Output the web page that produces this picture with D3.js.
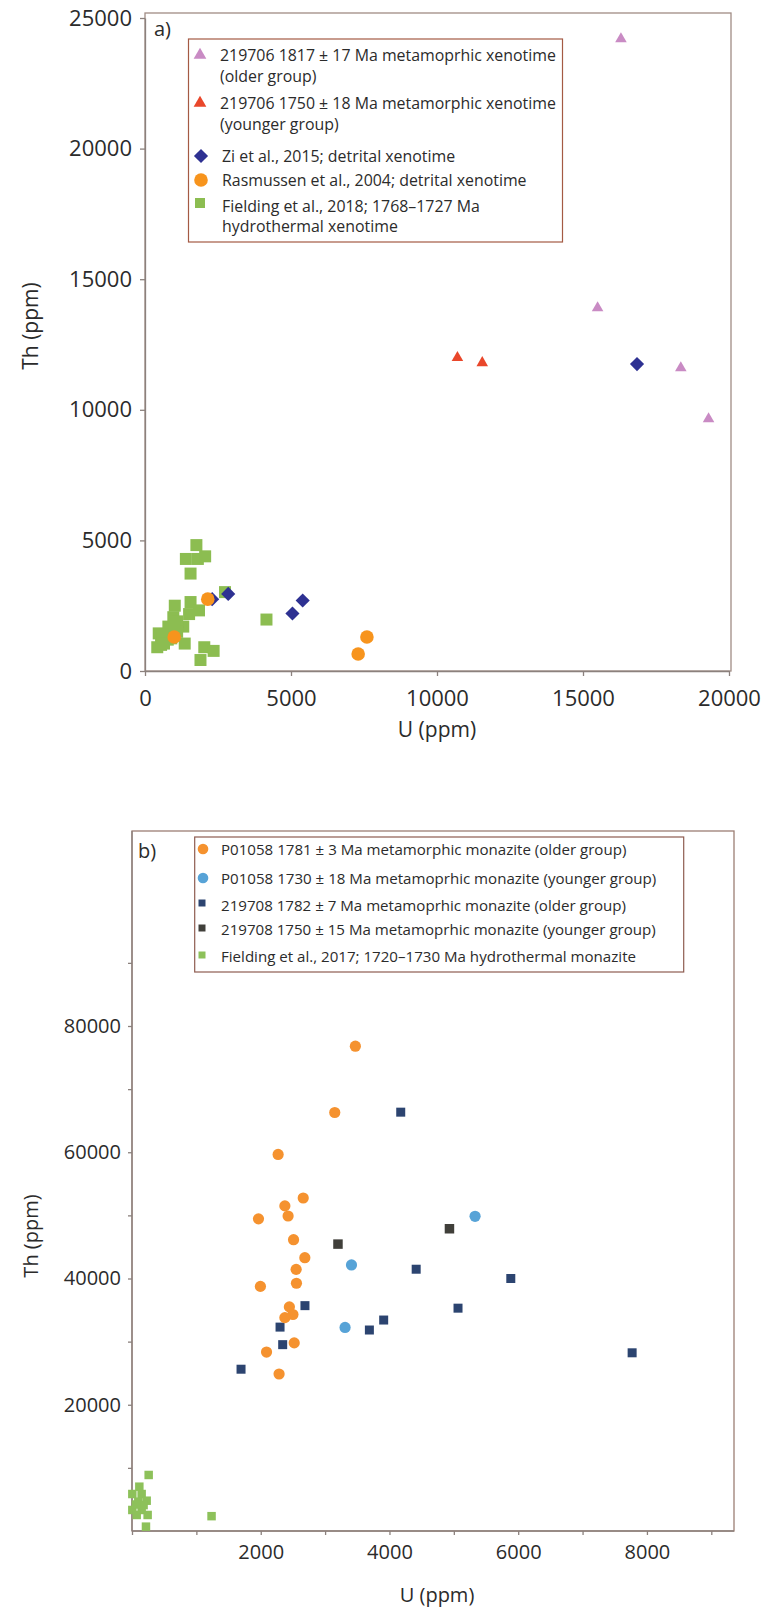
<!DOCTYPE html>
<html><head><meta charset="utf-8">
<script src="https://cdn.jsdelivr.net/npm/d3@7"></script>
<style>body{margin:0;background:#fff} svg{display:block;font-family:"Open Sans",sans-serif}</style>
</head><body>
<svg id="c" width="767" height="1611"></svg>
<script>
// ---------- Panel a data: [U ppm, Th ppm] ----------
const aOlderXeno = [[16300,24200],[15500,13900],[18350,11600],[19300,9650]];
const aYoungerXeno = [[10700,12000],[11550,11800]];
const aZi2015 = [[16850,11750],[2850,2950],[2300,2750],[5050,2200],[5400,2700]];
const aRasmussen2004 = [[2150,2750],[1000,1300],[7300,650],[7600,1300]];
const aFielding2018 = [[470,1440],[420,910],[550,1000],[800,1700],[1020,2500],[970,2060],[1310,1700],[1360,1050],
  [1900,420],[2030,910],[2350,770],[1560,2640],[1510,2180],[1850,2320],[4160,1970],[1560,3730],[1400,4290],
  [1810,4290],[2060,4390],[1760,4820],[2740,3020],[700,1400],[900,1250],[1100,1900],[780,1200],[1100,1500],
  [600,1300],[1000,1800],[650,1050]];
const aXTicks = [0,5000,10000,15000,20000];
const aYTicks = [0,5000,10000,15000,20000,25000];
const aLegendLines = ["219706 1817 \u00b1 17 Ma metamoprhic xenotime","(older group)",
  "219706 1750 \u00b1 18 Ma metamorphic xenotime"," (younger group)",
  "Zi et al., 2015; detrital xenotime","Rasmussen et al., 2004; detrital xenotime",
  "Fielding et al., 2018; 1768\u20131727 Ma","hydrothermal xenotime"];

// ---------- Panel b data: [U ppm, Th ppm] ----------
const bP01058Older = [[3470,76800],[3150,66300],[2270,59650],[2660,52750],[2375,51500],[2425,49900],[1965,49450],
  [2510,46150],[2685,43300],[2550,41450],[2555,39250],[1995,38750],[2445,35500],[2500,34300],[2375,33800],
  [2520,29800],[2090,28350],[2285,24870]];
const bP01058Younger = [[5330,49850],[3410,42150],[3310,32250]];
const b219708Older = [[4175,66350],[4415,41470],[5885,40000],[5065,35300],[2687,35700],[2300,32300],[3910,33420],
  [3688,31840],[2341,29520],[1694,25630],[7770,28230]];
const b219708Younger = [[3200,45450],[4932,47880]];
const bFielding2017 = [[259,8875],[114,7020],[5,5860],[150,5860],[228,4800],[98,4640],[5,3330],[150,3330],
  [243,2540],[73,2540],[217,690],[1236,2350],[180,4100],[60,4200]];
const bXTicks = [0,1000,2000,3000,4000,5000,6000,7000,8000,9000];
const bXLabels = [2000,4000,6000,8000];
const bYTicks = [10000,20000,30000,40000,50000,60000,70000,80000,90000];
const bYLabels = [20000,40000,60000,80000];
const bLegendLines = ["P01058 1781 \u00b1 3 Ma metamorphic monazite (older group)",
  "P01058 1730 \u00b1 18 Ma metamoprhic monazite (younger group)",
  "219708 1782 \u00b1 7 Ma metamoprhic monazite (older group)",
  "219708 1750 \u00b1 15 Ma metamoprhic monazite (younger group)",
  "Fielding et al., 2017; 1720\u20131730 Ma hydrothermal monazite"];

const svg = d3.select("#c");
const txt = "#2b2b2b";
const axisCol = "#8b817d";

function styleAxis(g, fs){
  g.select(".domain").attr("stroke", axisCol).attr("stroke-width",1.3);
  g.selectAll(".tick line").attr("stroke", axisCol).attr("stroke-width",1.3);
  g.selectAll(".tick text").attr("fill", txt).style("font-size", fs+"px").style("font-family",'"Open Sans",sans-serif');
}

// =============== Panel a ===============
const ax = d3.scaleLinear().domain([0,20000]).range([145,729]);
const ay = d3.scaleLinear().domain([0,25000]).range([671,18]);
const A = svg.append("g");
A.append("rect").attr("x",145).attr("y",13).attr("width",586).attr("height",658)
  .attr("fill","none").attr("stroke","#a08c84").attr("stroke-width",1.3);
const aXA = A.append("g").attr("transform","translate(0,671)")
  .call(d3.axisBottom(ax).tickValues(aXTicks).tickSize(5).tickSizeOuter(0).tickPadding(14).tickFormat(d3.format("d")));
styleAxis(aXA,22);
const aYA = A.append("g").attr("transform","translate(145,0)")
  .call(d3.axisLeft(ay).tickValues(aYTicks).tickSize(5).tickSizeOuter(0).tickPadding(8).tickFormat(d3.format("d")));
styleAxis(aYA,22);
A.append("text").attr("transform","translate(30,326) rotate(-90)").attr("text-anchor","middle")
  .attr("dominant-baseline","central").attr("fill",txt).style("font-size","21px").text("Th (ppm)");
A.append("text").attr("x",437).attr("y",729).attr("text-anchor","middle").attr("dominant-baseline","central")
  .attr("fill",txt).style("font-size","21px").text("U (ppm)");
A.append("text").attr("x",154).attr("y",28).attr("dominant-baseline","central").attr("fill",txt)
  .style("font-size","20px").text("a)");

const cGreenA="#8cbd51", cOrange="#f7941d", cNavy="#2e3192", cPink="#c98bc4", cRed="#e9472b";
const symSq = d3.symbol().type(d3.symbolSquare);
const symTri = d3.symbol().type(d3.symbolTriangle);
const symDia = d3.symbol().type(d3.symbolSquare);

A.selectAll(".ga").data(aFielding2018).join("path").attr("d",symSq.size(144)())
  .attr("transform",d=>`translate(${ax(d[0])},${ay(d[1])})`).attr("fill",cGreenA);
A.selectAll(".zi").data(aZi2015).join("path").attr("d",symDia.size(100)())
  .attr("transform",d=>`translate(${ax(d[0])},${ay(d[1])}) rotate(45)`).attr("fill",cNavy);
A.selectAll(".ra").data(aRasmussen2004).join("circle").attr("cx",d=>ax(d[0])).attr("cy",d=>ay(d[1]))
  .attr("r",6.8).attr("fill",cOrange);
A.selectAll(".yo").data(aYoungerXeno).join("path").attr("d",symTri.size(58)())
  .attr("transform",d=>`translate(${ax(d[0])},${ay(d[1])})`).attr("fill",cRed);
A.selectAll(".ol").data(aOlderXeno).join("path").attr("d",symTri.size(58)())
  .attr("transform",d=>`translate(${ax(d[0])},${ay(d[1])})`).attr("fill",cPink);

// legend a
const LA = A.append("g");
LA.append("rect").attr("x",188.5).attr("y",39).attr("width",374).attr("height",203)
  .attr("fill","#fff").attr("stroke","#a45a44").attr("stroke-width",1.2);
const aLegY = [55,76,103,124,156,180,206,226];
const aLegX = [220,220,220,220,222,222,222,222];
LA.selectAll("text").data(aLegendLines).join("text").attr("x",(d,i)=>aLegX[i]).attr("y",(d,i)=>aLegY[i])
  .attr("dominant-baseline","central").attr("fill",txt).style("font-size","15.9px").text(d=>d);
LA.append("path").attr("d",symTri.size(70)()).attr("transform","translate(200,55)").attr("fill",cPink);
LA.append("path").attr("d",symTri.size(70)()).attr("transform","translate(200,103)").attr("fill",cRed);
LA.append("path").attr("d",symDia.size(100)()).attr("transform","translate(201,156) rotate(45)").attr("fill",cNavy);
LA.append("circle").attr("cx",201).attr("cy",180).attr("r",6.8).attr("fill",cOrange);
LA.append("path").attr("d",symSq.size(100)()).attr("transform","translate(200,203)").attr("fill",cGreenA);

// =============== Panel b ===============
const bx = d3.scaleLinear().domain([0,9000]).range([132,711.3]);
const by = d3.scaleLinear().domain([0,80000]).range([1531,1026]);
const B = svg.append("g");
B.append("rect").attr("x",132).attr("y",831).attr("width",602).attr("height",700)
  .attr("fill","none").attr("stroke","#9c7e74").attr("stroke-width",1.3);
const bXA = B.append("g").attr("transform","translate(0,1531)")
  .call(d3.axisBottom(bx).tickValues(bXTicks).tickSize(4).tickSizeOuter(0).tickPadding(10)
    .tickFormat(d=>bXLabels.includes(d)?d3.format("d")(d):""));
styleAxis(bXA,20);
const bYA = B.append("g").attr("transform","translate(132,0)")
  .call(d3.axisLeft(by).tickValues(bYTicks).tickSize(4).tickSizeOuter(0).tickPadding(7)
    .tickFormat(d=>bYLabels.includes(d)?d3.format("d")(d):""));
styleAxis(bYA,20);
bYA.select(".domain").remove();
bXA.select(".domain").remove();
B.append("line").attr("x1",132).attr("x2",132).attr("y1",831).attr("y2",1531).attr("stroke",axisCol).attr("stroke-width",1.3);
B.append("line").attr("x1",132).attr("x2",734).attr("y1",1531).attr("y2",1531).attr("stroke",axisCol).attr("stroke-width",1.3);
B.append("text").attr("transform","translate(30,1236) rotate(-90)").attr("text-anchor","middle")
  .attr("dominant-baseline","central").attr("fill",txt).style("font-size","20px").text("Th (ppm)");
B.append("text").attr("x",437).attr("y",1594).attr("text-anchor","middle").attr("dominant-baseline","central")
  .attr("fill",txt).style("font-size","20px").text("U (ppm)");
B.append("text").attr("x",138).attr("y",850).attr("dominant-baseline","central").attr("fill",txt)
  .style("font-size","20px").text("b)");

const cOrB="#f5922f", cBlue="#57a3d7", cNavyB="#2c4470", cDark="#403f3a", cGreenB="#8dc15a";
B.selectAll(".gb").data(bFielding2017).join("path").attr("d",symSq.size(72)())
  .attr("transform",d=>`translate(${bx(d[0])},${by(d[1])})`).attr("fill",cGreenB);
B.selectAll(".nv").data(b219708Older).join("path").attr("d",symSq.size(81)())
  .attr("transform",d=>`translate(${bx(d[0])},${by(d[1])})`).attr("fill",cNavyB);
B.selectAll(".dk").data(b219708Younger).join("path").attr("d",symSq.size(90)())
  .attr("transform",d=>`translate(${bx(d[0])},${by(d[1])})`).attr("fill",cDark);
B.selectAll(".ob").data(bP01058Older).join("circle").attr("cx",d=>bx(d[0])).attr("cy",d=>by(d[1]))
  .attr("r",5.6).attr("fill",cOrB);
B.selectAll(".bl").data(bP01058Younger).join("circle").attr("cx",d=>bx(d[0])).attr("cy",d=>by(d[1]))
  .attr("r",5.6).attr("fill",cBlue);

// legend b
const LB = B.append("g");
LB.append("rect").attr("x",194.7).attr("y",837).attr("width",489).attr("height",135)
  .attr("fill","#fff").attr("stroke","#8e5c50").attr("stroke-width",1.2);
const bLegY = [849,878,905,929,956];
LB.selectAll("text").data(bLegendLines).join("text").attr("x",221).attr("y",(d,i)=>bLegY[i])
  .attr("dominant-baseline","central").attr("fill",txt).style("font-size","15.1px").text(d=>d);
LB.append("circle").attr("cx",203).attr("cy",849).attr("r",5.3).attr("fill",cOrB);
LB.append("circle").attr("cx",203).attr("cy",878).attr("r",5.3).attr("fill",cBlue);
LB.append("path").attr("d",symSq.size(49)()).attr("transform","translate(202,903)").attr("fill",cNavyB);
LB.append("path").attr("d",symSq.size(49)()).attr("transform","translate(202,928)").attr("fill",cDark);
LB.append("path").attr("d",symSq.size(49)()).attr("transform","translate(202,955)").attr("fill",cGreenB);
</script>
</body></html>
